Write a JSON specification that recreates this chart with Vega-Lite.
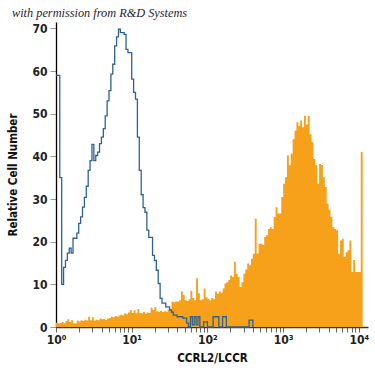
{
  "$schema": "https://vega.github.io/schema/vega-lite/v6.json",
  "width": 312,
  "height": 305,
  "autosize": {"type": "none"},
  "padding": {"left": 56, "top": 22, "right": 7, "bottom": 48},
  "background": "white",
  "title": {
    "text": "with permission from R&D Systems",
    "anchor": "start",
    "frame": "group",
    "dx": -44,
    "offset": 3,
    "font": "Liberation Serif",
    "fontStyle": "italic",
    "fontWeight": "normal",
    "fontSize": 12.3,
    "color": "#1e1e30"
  },
  "config": {
    "view": {"stroke": null},
    "axis": {
      "labelFont": "DejaVu Sans Condensed, sans-serif",
      "titleFont": "DejaVu Sans Condensed, sans-serif",
      "labelFontWeight": "bold",
      "titleFontWeight": "bold",
      "labelColor": "#222",
      "titleColor": "#111",
      "grid": false
    }
  },
  "datasets": {
    "ccrl2": [
      {"x": 1, "n": 1.0}, {"x": 1.059, "n": 0.8}, {"x": 1.122, "n": 1.0}, {"x": 1.189, "n": 1.2}, {"x": 1.259, "n": 0.9},
      {"x": 1.334, "n": 1.4}, {"x": 1.413, "n": 1.8}, {"x": 1.496, "n": 1.2}, {"x": 1.585, "n": 1.6}, {"x": 1.679, "n": 0.9},
      {"x": 1.778, "n": 0.9}, {"x": 1.884, "n": 1.5}, {"x": 1.995, "n": 1.3}, {"x": 2.113, "n": 1.6}, {"x": 2.239, "n": 1.4},
      {"x": 2.371, "n": 1.7}, {"x": 2.512, "n": 1.5}, {"x": 2.661, "n": 2.4}, {"x": 2.818, "n": 1.6}, {"x": 2.985, "n": 2.3},
      {"x": 3.162, "n": 1.5}, {"x": 3.35, "n": 1.7}, {"x": 3.548, "n": 1.6}, {"x": 3.758, "n": 2.0}, {"x": 3.981, "n": 1.8},
      {"x": 4.217, "n": 1.9}, {"x": 4.467, "n": 1.7}, {"x": 4.732, "n": 2.0}, {"x": 5.012, "n": 2.1}, {"x": 5.309, "n": 2.4},
      {"x": 5.623, "n": 2.3}, {"x": 5.957, "n": 2.6}, {"x": 6.31, "n": 2.4}, {"x": 6.683, "n": 2.7}, {"x": 7.079, "n": 2.9},
      {"x": 7.499, "n": 2.7}, {"x": 7.943, "n": 3.2}, {"x": 8.414, "n": 3.0}, {"x": 8.913, "n": 3.4}, {"x": 9.441, "n": 4.0},
      {"x": 10, "n": 3.3}, {"x": 10.59, "n": 3.9}, {"x": 11.22, "n": 3.2}, {"x": 11.89, "n": 4.2}, {"x": 12.59, "n": 3.3},
      {"x": 13.34, "n": 3.2}, {"x": 14.13, "n": 3.5}, {"x": 14.96, "n": 3.1}, {"x": 15.85, "n": 3.4}, {"x": 16.79, "n": 3.3},
      {"x": 17.78, "n": 4.6}, {"x": 18.84, "n": 4.0}, {"x": 19.95, "n": 4.7}, {"x": 21.13, "n": 3.7}, {"x": 22.39, "n": 3.6},
      {"x": 23.71, "n": 3.8}, {"x": 25.12, "n": 3.5}, {"x": 26.61, "n": 3.7}, {"x": 28.18, "n": 3.6}, {"x": 29.85, "n": 4.1},
      {"x": 31.62, "n": 4.2}, {"x": 33.5, "n": 5.9}, {"x": 35.48, "n": 5.8}, {"x": 37.58, "n": 6.0}, {"x": 39.81, "n": 5.9},
      {"x": 42.17, "n": 6.3}, {"x": 44.67, "n": 8.4}, {"x": 47.32, "n": 7.5}, {"x": 50.12, "n": 6.3}, {"x": 53.09, "n": 6.1},
      {"x": 56.23, "n": 6.5}, {"x": 59.57, "n": 8.5}, {"x": 63.1, "n": 6.8}, {"x": 66.83, "n": 6.3}, {"x": 70.79, "n": 11.4},
      {"x": 74.99, "n": 7.9}, {"x": 79.43, "n": 6.3}, {"x": 84.14, "n": 6.5}, {"x": 89.13, "n": 9.0}, {"x": 94.41, "n": 7.0},
      {"x": 100, "n": 6.6}, {"x": 105.9, "n": 6.2}, {"x": 112.2, "n": 6.8}, {"x": 118.9, "n": 6.5}, {"x": 125.9, "n": 8.3},
      {"x": 133.4, "n": 7.8}, {"x": 141.3, "n": 8.3}, {"x": 149.6, "n": 8.0}, {"x": 158.5, "n": 9.0}, {"x": 167.9, "n": 10.2},
      {"x": 177.8, "n": 10.5}, {"x": 188.4, "n": 11.0}, {"x": 199.5, "n": 12.1}, {"x": 211.3, "n": 11.8}, {"x": 223.9, "n": 15.3},
      {"x": 237.1, "n": 12.5}, {"x": 251.2, "n": 11.8}, {"x": 266.1, "n": 9.4}, {"x": 281.8, "n": 10.5}, {"x": 298.5, "n": 12.5},
      {"x": 316.2, "n": 13.5}, {"x": 335, "n": 14.9}, {"x": 354.8, "n": 14.5}, {"x": 375.8, "n": 16.0}, {"x": 398.1, "n": 17.2},
      {"x": 421.7, "n": 25.4}, {"x": 446.7, "n": 17.2}, {"x": 473.2, "n": 19.5}, {"x": 501.2, "n": 19.5}, {"x": 530.9, "n": 19.2},
      {"x": 562.3, "n": 21.1}, {"x": 595.7, "n": 21.5}, {"x": 631, "n": 23.0}, {"x": 668.3, "n": 23.4}, {"x": 707.9, "n": 23.0},
      {"x": 749.9, "n": 25.8}, {"x": 794.3, "n": 28.1}, {"x": 841.4, "n": 26.6}, {"x": 891.3, "n": 26.6}, {"x": 944.1, "n": 30.5},
      {"x": 1000, "n": 33.6}, {"x": 1059, "n": 35.1}, {"x": 1122, "n": 40.2}, {"x": 1189, "n": 37.9}, {"x": 1259, "n": 40.6},
      {"x": 1334, "n": 44.0}, {"x": 1413, "n": 46.0}, {"x": 1496, "n": 48.0}, {"x": 1585, "n": 47.2}, {"x": 1679, "n": 48.4},
      {"x": 1778, "n": 46.8}, {"x": 1884, "n": 49.5}, {"x": 1995, "n": 47.5}, {"x": 2113, "n": 49.5}, {"x": 2239, "n": 45.2},
      {"x": 2371, "n": 43.3}, {"x": 2512, "n": 39.4}, {"x": 2661, "n": 37.9}, {"x": 2818, "n": 33.6}, {"x": 2985, "n": 38.2},
      {"x": 3162, "n": 38.0}, {"x": 3350, "n": 35.1}, {"x": 3548, "n": 32.8}, {"x": 3758, "n": 28.9}, {"x": 3981, "n": 27.5},
      {"x": 4217, "n": 25.8}, {"x": 4467, "n": 23.4}, {"x": 4732, "n": 23.0}, {"x": 5012, "n": 22.7}, {"x": 5309, "n": 17.2},
      {"x": 5623, "n": 20.3}, {"x": 5957, "n": 20.7}, {"x": 6310, "n": 16.4}, {"x": 6683, "n": 17.5}, {"x": 7079, "n": 18.0},
      {"x": 7499, "n": 20.3}, {"x": 7943, "n": 12.9}, {"x": 8414, "n": 15.7}, {"x": 8913, "n": 12.9}, {"x": 9441, "n": 12.9},
      {"x": 10000, "n": 12.9}, {"x": 10590, "n": 41.0}, {"x": 11220, "n": 0}
    ],
    "control": [
      {"x": 1, "n": 59}, {"x": 1.059, "n": 59}, {"x": 1.122, "n": 35}, {"x": 1.189, "n": 10}, {"x": 1.259, "n": 14},
      {"x": 1.334, "n": 15.6}, {"x": 1.413, "n": 17.3}, {"x": 1.496, "n": 18.5}, {"x": 1.585, "n": 17.3}, {"x": 1.679, "n": 20.8},
      {"x": 1.778, "n": 20.8}, {"x": 1.884, "n": 22}, {"x": 1.995, "n": 24.3}, {"x": 2.113, "n": 25.8}, {"x": 2.239, "n": 28.1},
      {"x": 2.371, "n": 30.4}, {"x": 2.512, "n": 33}, {"x": 2.661, "n": 36.7}, {"x": 2.818, "n": 39}, {"x": 2.985, "n": 42.8},
      {"x": 3.162, "n": 39}, {"x": 3.35, "n": 40.2}, {"x": 3.548, "n": 41}, {"x": 3.758, "n": 43}, {"x": 3.981, "n": 44.5},
      {"x": 4.217, "n": 46.5}, {"x": 4.467, "n": 49.5}, {"x": 4.732, "n": 53}, {"x": 5.012, "n": 55.4}, {"x": 5.309, "n": 59.3},
      {"x": 5.623, "n": 61.6}, {"x": 5.957, "n": 65.9}, {"x": 6.31, "n": 68}, {"x": 6.683, "n": 69.8}, {"x": 7.079, "n": 69},
      {"x": 7.499, "n": 69}, {"x": 7.943, "n": 68.6}, {"x": 8.414, "n": 65.1}, {"x": 8.913, "n": 64.3}, {"x": 9.441, "n": 64.3},
      {"x": 10, "n": 58.1}, {"x": 10.59, "n": 55}, {"x": 11.22, "n": 53.4}, {"x": 11.89, "n": 44.5}, {"x": 12.59, "n": 36.7},
      {"x": 13.34, "n": 31}, {"x": 14.13, "n": 28}, {"x": 14.96, "n": 26.9}, {"x": 15.85, "n": 22.7}, {"x": 16.79, "n": 21},
      {"x": 17.78, "n": 21}, {"x": 18.84, "n": 16.8}, {"x": 19.95, "n": 15.6}, {"x": 21.13, "n": 13.3}, {"x": 22.39, "n": 10.2},
      {"x": 23.71, "n": 6.7}, {"x": 25.12, "n": 5.6}, {"x": 26.61, "n": 5.6}, {"x": 28.18, "n": 4.7}, {"x": 29.85, "n": 4.7},
      {"x": 31.62, "n": 4}, {"x": 33.5, "n": 3.5}, {"x": 35.48, "n": 2.8}, {"x": 37.58, "n": 2.8}, {"x": 39.81, "n": 2.4},
      {"x": 42.17, "n": 2.4}, {"x": 44.67, "n": 2.4}, {"x": 47.32, "n": 2.1}, {"x": 50.12, "n": 2.1}, {"x": 53.09, "n": 0.9},
      {"x": 56.23, "n": 0}, {"x": 59.57, "n": 2.4}, {"x": 63.1, "n": 0.5}, {"x": 66.83, "n": 2.4}, {"x": 70.79, "n": 0.5},
      {"x": 74.99, "n": 2.4}, {"x": 79.43, "n": 0}, {"x": 89.13, "n": 1.2}, {"x": 100, "n": 0},
      {"x": 118.9, "n": 2.4}, {"x": 141.3, "n": 0}, {"x": 158.5, "n": 2.4}, {"x": 177.8, "n": 0},
      {"x": 354.8, "n": 1.6}, {"x": 398.1, "n": 0}
    ]
  },
  "encoding": {
    "x": {
      "field": "x",
      "type": "quantitative",
      "scale": {"type": "log", "domain": [1, 13200], "nice": false},
      "axis": {
        "title": "CCRL2/LCCR",
        "titleFontSize": 11.5,
        "titlePadding": 7,
        "values": [1,2,3,4,5,6,7,8,9,10,20,30,40,50,60,70,80,90,100,200,300,400,500,600,700,800,900,1000,2000,3000,4000,5000,6000,7000,8000,9000,10000],
        "labelExpr": "datum.value == 1 ? '10⁰' : datum.value == 10 ? '10¹' : datum.value == 100 ? '10²' : datum.value == 1000 ? '10³' : datum.value == 10000 ? '10⁴' : ''",
        "labelOverlap": false,
        "labelFlush": false,
        "labelFontSize": 12,
        "labelPadding": 2,
        "tickSize": 5,
        "tickColor": "#666",
        "domainColor": "#333",
        "domainWidth": 1.5
      }
    },
    "y": {
      "field": "n",
      "type": "quantitative",
      "scale": {"domain": [0, 71.5], "nice": false},
      "axis": {
        "title": "Relative Cell Number",
        "titleFontSize": 11.5,
        "titlePadding": 13,
        "values": [0, 10, 20, 30, 40, 50, 60, 70],
        "labelFontSize": 12,
        "labelPadding": 3,
        "tickSize": 6,
        "tickColor": "#999",
        "domainColor": "#000",
        "domainWidth": 1.3
      }
    }
  },
  "layer": [
    {
      "data": {"name": "ccrl2"},
      "mark": {"type": "area", "interpolate": "step-after", "color": "#F7A11A"}
    },
    {
      "data": {"name": "control"},
      "mark": {"type": "line", "interpolate": "step-after", "color": "#2F6190", "strokeWidth": 1.3}
    }
  ]
}
